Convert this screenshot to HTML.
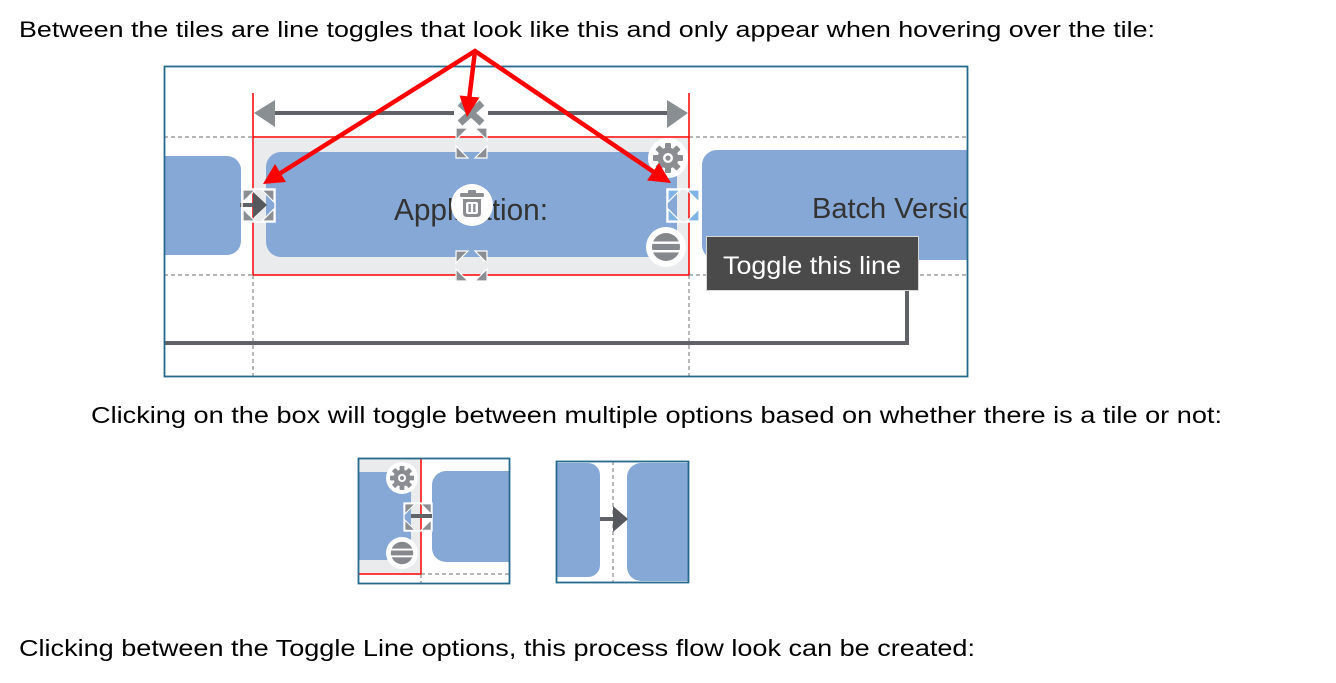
<!DOCTYPE html>
<html><head><meta charset="utf-8"><style>
html,body{margin:0;padding:0;background:#fff;}
svg{display:block;}
</style></head><body>
<svg width="1336" height="683" viewBox="0 0 1336 683" xmlns="http://www.w3.org/2000/svg">
<defs>
<clipPath id="cm"><rect x="165" y="67" width="802" height="309"/></clipPath>
<clipPath id="c1"><rect x="359" y="459" width="150" height="124"/></clipPath>
<clipPath id="c2"><rect x="557" y="462" width="131" height="120"/></clipPath>
</defs>
<rect width="1336" height="683" fill="#fff"/>

<g font-family="'Liberation Sans', sans-serif" fill="#000">
<text x="19" y="37" font-size="22.5" textLength="1136" lengthAdjust="spacingAndGlyphs">Between the tiles are line toggles that look like this and only appear when hovering over the tile:</text>
<text x="91" y="423" font-size="23" textLength="1131" lengthAdjust="spacingAndGlyphs">Clicking on the box will toggle between multiple options based on whether there is a tile or not:</text>
<text x="19" y="656" font-size="23" textLength="956" lengthAdjust="spacingAndGlyphs">Clicking between the Toggle Line options, this process flow look can be created:</text>
</g>

<!-- MAIN BOX -->
<g clip-path="url(#cm)">
<rect x="164" y="66" width="804" height="311" fill="#fff"/>
<g stroke="#8a8a8a" stroke-width="1.2" stroke-dasharray="4 3" fill="none">
<line x1="164" y1="137" x2="253" y2="137"/>
<line x1="689" y1="137" x2="968" y2="137"/>
<line x1="164" y1="275" x2="253" y2="275"/>
<line x1="689" y1="275" x2="968" y2="275"/>
<line x1="253" y1="275" x2="253" y2="377"/>
<line x1="689" y1="275" x2="689" y2="377"/>
</g>
<rect x="254" y="138" width="435" height="137" fill="#e9ebed"/>
<rect x="130" y="156" width="111" height="99" rx="14" fill="#86a8d6"/>
<rect x="266" y="152" width="411" height="105" rx="15" fill="#86a8d6"/>
<rect x="702" y="150" width="320" height="110" rx="15" fill="#86a8d6"/>
<text x="394" y="220" font-family="'Liberation Sans', sans-serif" font-size="31" fill="#333" textLength="154" lengthAdjust="spacingAndGlyphs">Application:</text>
<text x="812" y="218" font-family="'Liberation Sans', sans-serif" font-size="29" fill="#333">Batch Version:</text>

<!-- red selection -->
<g stroke="#ff0000" stroke-width="1.5" fill="none">
<line x1="253" y1="93" x2="253" y2="275"/>
<line x1="689" y1="93" x2="689" y2="275"/>
<line x1="253" y1="137" x2="689" y2="137"/>
<line x1="253" y1="275" x2="689" y2="275"/>
</g>

<!-- top double arrow -->
<line x1="272" y1="113" x2="670" y2="113" stroke="#5f6368" stroke-width="4"/>
<polygon points="254,113 275,100 275,127" fill="#8a8f94"/>
<polygon points="688,113 667,100 667,128" fill="#8a8f94"/>
<rect x="454" y="100" width="34" height="26" fill="#fff"/>
<g stroke="#8a8f94" stroke-width="7">
<line x1="460" y1="103" x2="482" y2="123"/>
<line x1="482" y1="103" x2="460" y2="123"/>
</g>

<!-- left connector -->
<line x1="240" y1="205" x2="255" y2="205" stroke="#5f6368" stroke-width="4"/>

<!-- expand icons -->
<g transform="translate(242,189)">
<rect x="0" y="0" width="33" height="33" fill="none" stroke="#fff" stroke-width="1.5"/>
<g fill="#8a8e93" stroke="#fff" stroke-width="1.2">
<path d="M1 1 H13 L1 13 Z"/><path d="M32 1 V13 L20 1 Z"/><path d="M1 32 V20 L13 32 Z"/><path d="M32 32 H20 L32 20 Z"/>
</g>
</g>
<polygon points="253,192 267,205 253,218" fill="#55595e"/>
<g transform="translate(455,127)">
<g fill="#8a8e93" stroke="#fff" stroke-width="1.2">
<path d="M1 1 H13 L1 13 Z"/><path d="M32 1 V13 L20 1 Z"/><path d="M1 31 V19 L13 31 Z"/><path d="M32 31 H20 L32 19 Z"/>
</g>
</g>
<g transform="translate(455,250)">
<g fill="#8a8e93" stroke="#fff" stroke-width="1.2">
<path d="M1 1 H13 L1 13 Z"/><path d="M32 1 V13 L20 1 Z"/><path d="M1 31 V19 L13 31 Z"/><path d="M32 31 H20 L32 19 Z"/>
</g>
</g>
<g transform="translate(667,189)">
<rect x="0" y="0" width="33" height="33" fill="none" stroke="#fff" stroke-width="1.5"/>
<g fill="#7fb3e3" stroke="#fff" stroke-width="1.2">
<path d="M1 1 H13 L1 13 Z"/><path d="M32 1 V13 L20 1 Z"/><path d="M1 32 V20 L13 32 Z"/><path d="M32 32 H20 L32 20 Z"/>
</g>
</g>

<!-- trash -->
<g transform="translate(472,205)">
<circle r="21" fill="#fff"/>
<g fill="#8a8e93">
<rect x="-4" y="-15" width="8" height="4" rx="1.5"/>
<rect x="-12" y="-12" width="24" height="4" rx="1.5"/>
<path d="M-9 -6 H9 V8 Q9 12 5 12 H-5 Q-9 12 -9 8 Z"/>
</g>
<rect x="-6" y="-3" width="12" height="12" rx="2" fill="#fff"/>
<rect x="-3.5" y="-1" width="2.3" height="8" fill="#8a8e93"/>
<rect x="1.2" y="-1" width="2.3" height="8" fill="#8a8e93"/>
</g>

<!-- gear -->
<g transform="translate(668,158)">
<circle r="20" fill="#fff"/>
<g fill="#8a8e93">
<circle r="10.5"/>
<rect x="-3" y="-15" width="6" height="7" rx="1"/>
<rect x="-3" y="-15" width="6" height="7" rx="1" transform="rotate(45)"/>
<rect x="-3" y="-15" width="6" height="7" rx="1" transform="rotate(90)"/>
<rect x="-3" y="-15" width="6" height="7" rx="1" transform="rotate(135)"/>
<rect x="-3" y="-15" width="6" height="7" rx="1" transform="rotate(180)"/>
<rect x="-3" y="-15" width="6" height="7" rx="1" transform="rotate(225)"/>
<rect x="-3" y="-15" width="6" height="7" rx="1" transform="rotate(270)"/>
<rect x="-3" y="-15" width="6" height="7" rx="1" transform="rotate(315)"/>
</g>
<circle r="5" fill="#fff"/>
<circle r="2.6" fill="#8a8e93"/>
</g>

<!-- menu -->
<g transform="translate(666,247)">
<circle r="20" fill="#fff"/>
<circle r="14" fill="#85898e"/>
<rect x="-15" y="-5.5" width="30" height="2.4" fill="#fff"/>
<rect x="-15" y="3" width="30" height="2.4" fill="#fff"/>
</g>

<!-- bottom connector -->
<polyline points="160,343 907,343 907,290" fill="none" stroke="#5f6368" stroke-width="4"/>

<!-- tooltip -->
<rect x="706.5" y="236.5" width="212" height="54" fill="#4a4a4a" stroke="#d8d8d8" stroke-width="1"/>
<text x="723" y="274" font-family="'Liberation Sans', sans-serif" font-size="25" fill="#fff" textLength="178" lengthAdjust="spacingAndGlyphs">Toggle this line</text>
</g>
<rect x="164.5" y="66.5" width="803" height="310" fill="none" stroke="#256a8c" stroke-width="1.8"/>

<!-- red annotation arrows -->
<g stroke="#ff0000" stroke-width="4.5" stroke-linecap="round" fill="none">
<line x1="475" y1="51" x2="280" y2="173.4"/>
<line x1="475" y1="51" x2="469.4" y2="97"/>
<line x1="475" y1="51" x2="653.4" y2="171.8"/>
</g>
<g fill="#ff0000">
<polygon points="263,184 286,182 275,164"/>
<polygon points="467,117 479.5,97.5 459.5,95.5"/>
<polygon points="671,183 647,180.5 659,163"/>
</g>

<!-- SMALL BOX 1 -->
<g clip-path="url(#c1)">
<rect x="358" y="458" width="152" height="126" fill="#fff"/>
<rect x="359" y="459" width="62" height="115" fill="#e9ebed"/>
<rect x="340" y="472" width="71" height="88" rx="5" fill="#86a8d6"/>
<rect x="432" y="471" width="110" height="91" rx="14" fill="#86a8d6"/>
<g stroke="#8a8a8a" stroke-width="1.2" stroke-dasharray="4 3" fill="none">
<line x1="421" y1="574" x2="510" y2="574"/>
<line x1="421" y1="574" x2="421" y2="584"/>
</g>
<g stroke="#ff0000" stroke-width="1.5" fill="none">
<line x1="421" y1="458" x2="421" y2="574"/>
<line x1="358" y1="574" x2="421" y2="574"/>
</g>
<g transform="translate(402,478) scale(0.8)">
<circle r="20" fill="#fff"/>
<g fill="#8a8e93">
<circle r="10.5"/>
<rect x="-3" y="-15" width="6" height="7" rx="1"/>
<rect x="-3" y="-15" width="6" height="7" rx="1" transform="rotate(45)"/>
<rect x="-3" y="-15" width="6" height="7" rx="1" transform="rotate(90)"/>
<rect x="-3" y="-15" width="6" height="7" rx="1" transform="rotate(135)"/>
<rect x="-3" y="-15" width="6" height="7" rx="1" transform="rotate(180)"/>
<rect x="-3" y="-15" width="6" height="7" rx="1" transform="rotate(225)"/>
<rect x="-3" y="-15" width="6" height="7" rx="1" transform="rotate(270)"/>
<rect x="-3" y="-15" width="6" height="7" rx="1" transform="rotate(315)"/>
</g>
<circle r="5" fill="#fff"/>
<circle r="2.6" fill="#8a8e93"/>
</g>
<g transform="translate(402,553) scale(0.8)">
<circle r="20" fill="#fff"/>
<circle r="14" fill="#85898e"/>
<rect x="-15" y="-5.5" width="30" height="2.4" fill="#fff"/>
<rect x="-15" y="3" width="30" height="2.4" fill="#fff"/>
</g>
<g transform="translate(404,503) scale(0.85)">
<rect x="0" y="0" width="33" height="33" fill="none" stroke="#fff" stroke-width="1.5"/>
<g fill="#8a8e93" stroke="#fff" stroke-width="1.2">
<path d="M1 1 H13 L1 13 Z"/><path d="M32 1 V13 L20 1 Z"/><path d="M1 32 V20 L13 32 Z"/><path d="M32 32 H20 L32 20 Z"/>
</g>
</g>
<line x1="411" y1="516" x2="432" y2="516" stroke="#5f6368" stroke-width="4"/>
</g>
<rect x="358.5" y="458.5" width="151" height="125" fill="none" stroke="#256a8c" stroke-width="1.8"/>

<!-- SMALL BOX 2 -->
<g clip-path="url(#c2)">
<rect x="556" y="461" width="133" height="122" fill="#fff"/>
<rect x="530" y="463" width="70" height="114" rx="12" fill="#86a8d6"/>
<rect x="627" y="463" width="100" height="118" rx="14" fill="#86a8d6"/>
<line x1="613" y1="461" x2="613" y2="583" stroke="#8a8a8a" stroke-width="1.2" stroke-dasharray="4 3"/>
<line x1="600" y1="519" x2="615" y2="519" stroke="#5f6368" stroke-width="4"/>
<polygon points="613,506 628,519 613,532" fill="#55595e"/>
</g>
<rect x="556.5" y="461.5" width="132" height="121" fill="none" stroke="#256a8c" stroke-width="1.8"/>
</svg>
</body></html>
